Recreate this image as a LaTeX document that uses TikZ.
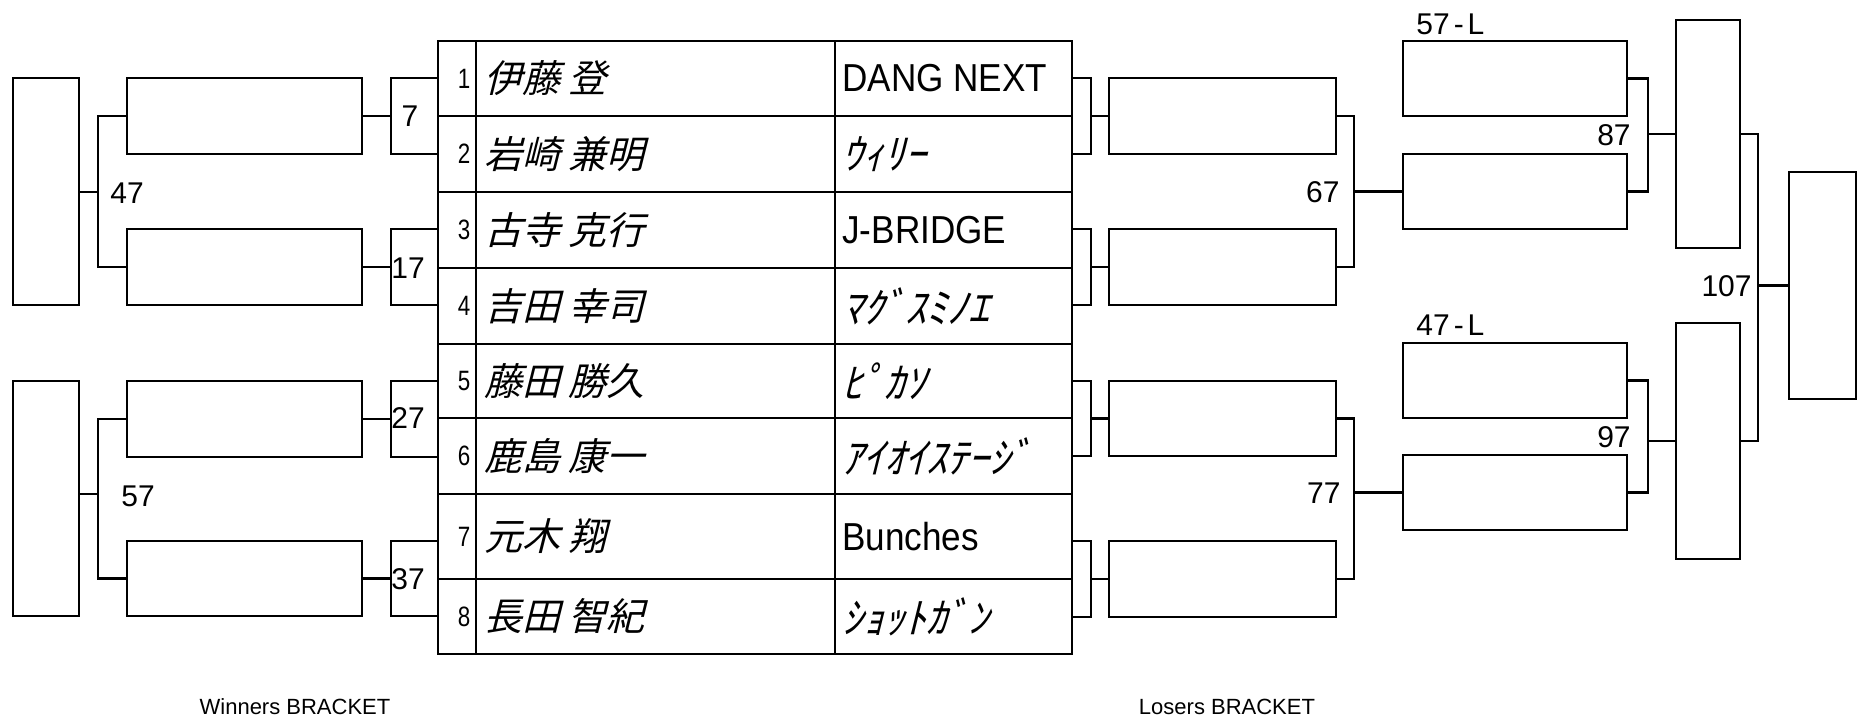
\documentclass[tikz,border=0pt]{standalone}
\usepackage{fontspec}
\setmainfont{Liberation Sans}
\newfontfamily\jpname[FakeSlant=0.25]{Noto Sans CJK JP}
\newfontfamily\teamfont[FakeStretch=0.9]{Liberation Sans}
\newfontfamily\seedfont[FakeStretch=0.8]{Liberation Sans}
\usetikzlibrary{calc}
\newcommand{\mybox}[5]{%
  \node[box, minimum width={(#4)-(#2)}, minimum height={(#5)-(#3)}] (#1) at ({((#2)+(#4))/2},{((#3)+(#5))/2}) {};}
\newcommand{\tblrow}[5]{%
  \node[box, minimum width=38, minimum height={(#3)-(#2)}] (s#1) at (457,{((#2)+(#3))/2}) {};
  \node[seedtxt] (sn#1) at ([xshift=7]s#1.center) {#1};
  \node[box, minimum width=359, minimum height={(#3)-(#2)}] (n#1) at (655.5,{((#2)+(#3))/2}) {};
  \node[nametxt, anchor=west] (nt#1) at ([xshift=7]n#1.west) {#4};
  \node[box, minimum width=237, minimum height={(#3)-(#2)}] (t#1) at (953.5,{((#2)+(#3))/2}) {};
  \node[inner sep=0pt, anchor=west] (tt#1) at ([xshift=6]t#1.west) {#5};}
\newcommand{\kana}{\jpname\fontsize{42}{42}\selectfont}
\newcommand{\latin}{\teamfont\fontsize{39}{39}\selectfont}
\begin{document}
\begin{tikzpicture}[x=1pt, y=-1pt, line width=2.8pt,
  box/.style={draw, inner sep=0pt, outer sep=0pt},
  lbl/.style={inner sep=0pt, font=\fontsize{30}{30}\selectfont},
  captext/.style={inner sep=0pt, font=\fontsize{22}{22}\selectfont},
  seedtxt/.style={inner sep=0pt, font=\seedfont\fontsize{28}{28}\selectfont},
  nametxt/.style={inner sep=0pt, font=\jpname\fontsize{38}{38}\selectfont}]
\useasboundingbox (0,0) rectangle (1860,723);

% ---- table ----
\tblrow{1}{41}{116}{伊藤 登}{\latin DANG NEXT}
\tblrow{2}{116}{192}{岩崎 兼明}{\kana ｳｨﾘｰ}
\tblrow{3}{192}{268}{古寺 克行}{\latin J-BRIDGE}
\tblrow{4}{268}{344}{吉田 幸司}{\kana ﾏｸﾞｽﾐﾉｴ}
\tblrow{5}{344}{418}{藤田 勝久}{\kana ﾋﾟｶｿ}
\tblrow{6}{418}{494}{鹿島 康一}{\kana ｱｲｵｲｽﾃｰｼﾞ}
\tblrow{7}{494}{579}{元木 翔}{\latin Bunches}
\tblrow{8}{579}{654}{長田 智紀}{\kana ｼｮｯﾄｶﾞﾝ}

% ---- winners side ----
\mybox{A}{13}{78}{79}{305}
\mybox{B}{13}{381}{79}{616}
\mybox{W1}{127}{78}{362}{154}
\mybox{W2}{127}{229}{362}{305}
\mybox{W3}{127}{381}{362}{457}
\mybox{W4}{127}{541}{362}{616}

\coordinate (wa) at (98,192);
\coordinate (wb) at (98,494);
\draw (A.east |- wa) -- (wa);
\draw (W1.west) -| (wa) |- (W2.west);
\draw (B.east |- wb) -- (wb);
\draw (W3.west) -| (wb) |- (W4.west);

\foreach \w/\s in {W1/1, W2/3, W3/5, W4/7}{
  \draw (\w.north -| s\s.west) -- ++(-47,0) |- (\w.south -| s\s.west);
  \draw (\w.east) -- ++(29,0);
}

\node[lbl] (l7) at (410,116) {7};
\node[lbl] (l17) at (408,268) {17};
\node[lbl] (l27) at (408,418) {27};
\node[lbl] (l37) at (408,579) {37};
\node[lbl, anchor=west] (l47) at (109,193) {47};
\node[lbl, anchor=west] (l57) at (120,496) {57};

% ---- losers side ----
\mybox{L1}{1109}{78}{1336}{154}
\mybox{L2}{1109}{229}{1336}{305}
\mybox{L3}{1109}{381}{1336}{456}
\mybox{L4}{1109}{541}{1336}{617}
\foreach \l/\s in {L1/1, L2/3, L3/5, L4/7}{
  \draw (\l.north -| t\s.east) -- ++(19,0) |- (\l.south -| t\s.east);
  \draw (\l.west) -- ++(-18,0);
}

\mybox{L5}{1403}{41}{1627}{116}
\mybox{L6}{1403}{154}{1627}{229}
\mybox{L8}{1403}{343}{1627}{418}
\mybox{L7}{1403}{455}{1627}{530}
\mybox{F1}{1676}{20}{1740}{248}
\mybox{F2}{1676}{323}{1740}{559}
\mybox{F3}{1789}{172}{1856}{399}

\coordinate (v67) at (1354,0);
\draw (L1.east) -| (v67 |- L2.east) -- (L2.east);
\draw (L6.west) -- (L6.west -| v67);
\draw (L3.east) -| (v67 |- L4.east) -- (L4.east);
\draw (L7.west) -- (L7.west -| v67);

\coordinate (v87) at (1648,0);
\draw (L5.east) -| (v87 |- L6.east) -- (L6.east);
\draw (F1.west) -- (F1.west -| v87);
\draw (L8.east) -| (v87 |- L7.east) -- (L7.east);
\draw (F2.west) -- (F2.west -| v87);

\coordinate (v107) at (1758,0);
\draw (F1.east) -| (v107 |- F2.east) -- (F2.east);
\draw (F3.west) -- (F3.west -| v107);

\node[lbl, anchor=east] (l67) at (1341,192) {67};
\node[lbl, anchor=east] (l77) at (1342,493) {77};
\node[lbl, anchor=east] (l87) at (1632,135) {87};
\node[lbl, anchor=east] (l97) at (1632,437) {97};
\node[lbl, anchor=east] (l107) at (1753,286) {107};
\node[lbl, anchor=west] (l57L) at (1415,24) {57\kern4pt-\kern4pt L};
\node[lbl, anchor=west] (l47L) at (1415,325) {47\kern4pt-\kern4pt L};

\node[captext] (capW) at (295,707) {Winners BRACKET};
\node[captext] (capL) at (1227,707) {Losers BRACKET};
\end{tikzpicture}
\end{document}
